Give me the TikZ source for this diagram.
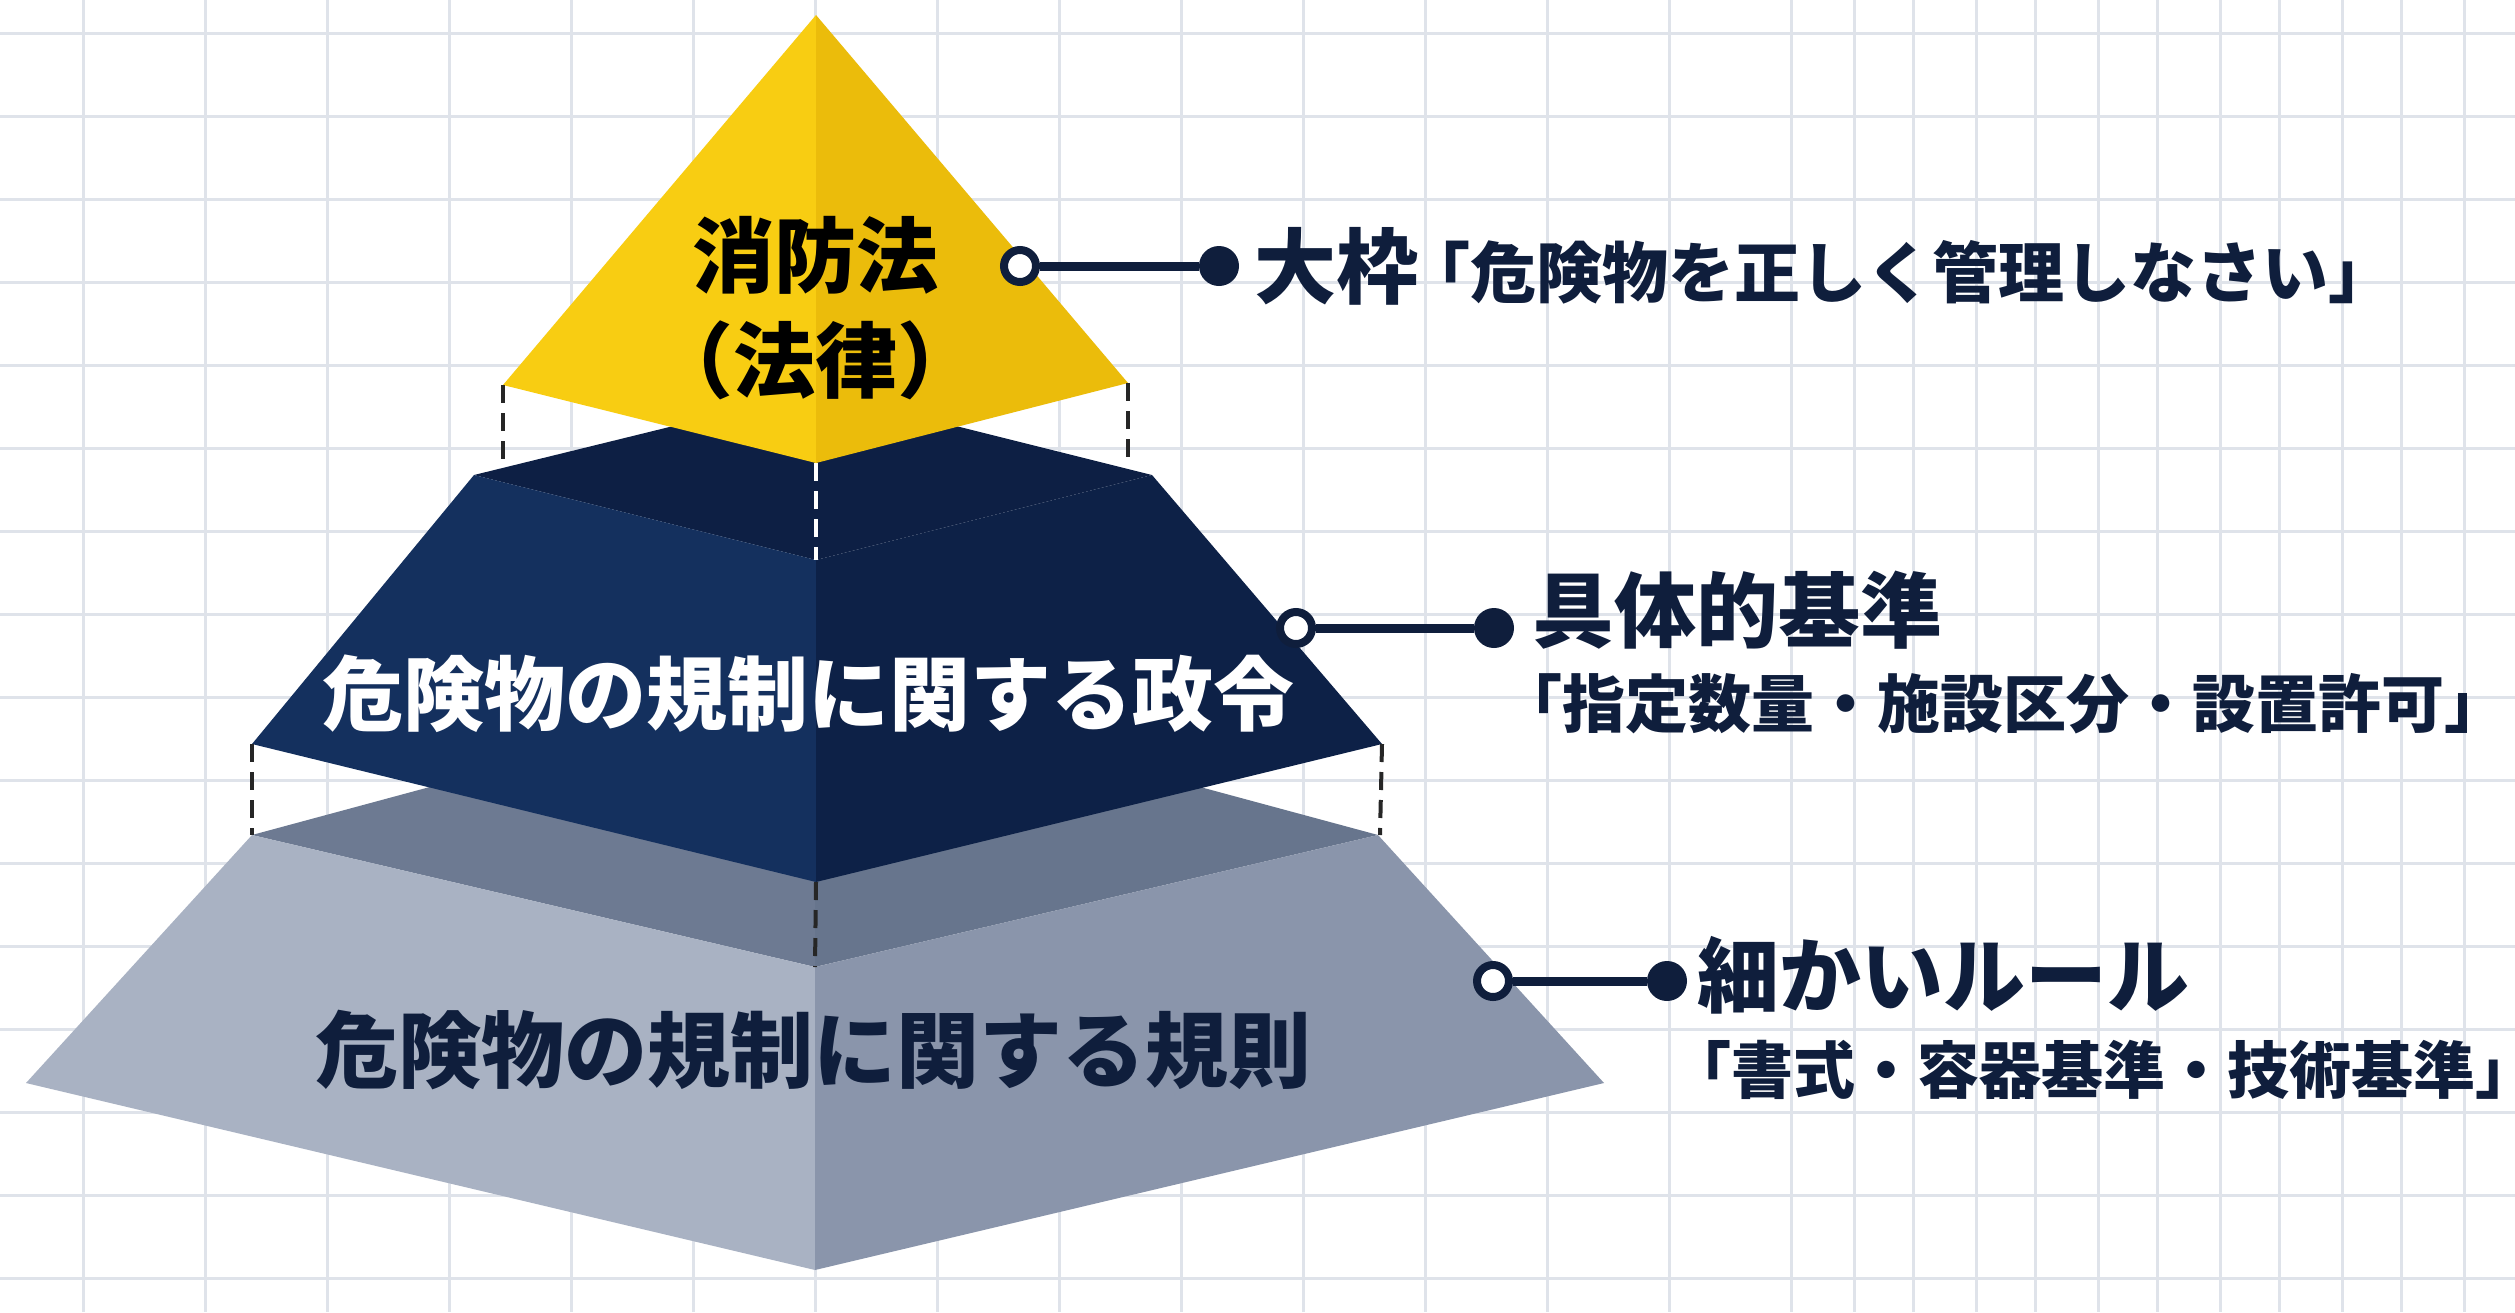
\documentclass[tikz,border=0pt]{standalone}
\usepackage{fontspec}
\setmainfont{Noto Sans CJK JP}
\definecolor{ylL}{HTML}{F8CD12}
\definecolor{ylR}{HTML}{EBBC0B}
\definecolor{nvT}{HTML}{0D1F44}
\definecolor{nvL}{HTML}{14305E}
\definecolor{nvR}{HTML}{0D2147}
\definecolor{gyT}{HTML}{6D7A92}
\definecolor{gyTR}{HTML}{67758D}
\definecolor{gyL}{HTML}{A9B2C3}
\definecolor{gyR}{HTML}{8A95AB}
\definecolor{ink}{HTML}{0F1E3C}
\definecolor{gridc}{HTML}{DFE3EA}
\begin{document}
\begin{tikzpicture}[x=1pt,y=-1pt,
  gridline/.style={draw=gridc,line width=3pt},
  opendot/.style={circle,draw=ink,fill=white,line width=8pt,minimum size=32pt,inner sep=0pt},
  fulldot/.style={circle,fill=ink,minimum size=40pt,inner sep=0pt},
  conn/.style={draw=ink,line width=9pt},
  guide/.style={draw=black!85,line width=4pt,dash pattern=on 18pt off 10pt},
  guidew/.style={draw=white,line width=4pt,dash pattern=on 18pt off 10pt},
  bigtxt/.style={font=\fontsize{82}{92}\selectfont\bfseries,text=ink,inner sep=0pt},
  smalltxt/.style={font=\fontsize{63}{72}\selectfont\bfseries,text=ink,inner sep=0pt},
  layertxt/.style={font=\fontsize{83}{94}\selectfont\bfseries,inner sep=0pt}]
\useasboundingbox (0,0) rectangle (2515,1312);
\fill[white] (0,0) rectangle (2515,1312);
% grid
\foreach \k in {0,...,15} \draw[gridline] (0,33+83*\k) -- (2515,33+83*\k);
\foreach \k in {0,...,19} \draw[gridline] (83+122*\k,0) -- (83+122*\k,1312);
\foreach \k in {0,...,5} \draw[gridline] (1854+122*\k,0) -- (1854+122*\k,1312);
% coordinates
\coordinate (gTL) at (252,835);
\coordinate (gTB) at (815,683);
\coordinate (gTR) at (1378,835);
\coordinate (gTF) at (815,967);
\coordinate (gBL) at (26,1083);
\coordinate (gBR) at (1604,1083);
\coordinate (gBF) at (815,1270);
\coordinate (nTL) at (474,475);
\coordinate (nTB) at (816,391);
\coordinate (nTR) at (1152,475);
\coordinate (nTF) at (816,560);
\coordinate (nBL) at (252,744);
\coordinate (nBR) at (1382,744);
\coordinate (nBF) at (816,882);
\coordinate (yA) at (816,15);
\coordinate (yL) at (503,385);
\coordinate (yR) at (1128,383);
\coordinate (yB) at (816,463);
% gray layer
\fill[gyT] (gTL) -- (gTB) -- (gTF) -- cycle;
\fill[gyTR] (gTB) -- (gTR) -- (gTF) -- cycle;
\fill[gyL] (gTL) -- (gTF) -- (gBF) -- (gBL) -- cycle;
\fill[gyR] (gTF) -- (gTR) -- (gBR) -- (gBF) -- cycle;
% navy layer
\fill[nvT] (nTL) -- (nTB) -- (nTR) -- (nTF) -- cycle;
\fill[nvL] (nTL) -- (nTF) -- (nBF) -- (nBL) -- cycle;
\fill[nvR] (nTF) -- (nTR) -- (nBR) -- (nBF) -- cycle;
% yellow layer
\fill[ylL] (yA) -- (yL) -- (yB) -- cycle;
\fill[ylR] (yA) -- (yB) -- (yR) -- cycle;
% guides
\draw[guide] (yL) -- (503,467);
\draw[guide] (yR) -- (1128,467);
\draw[guidew] (yB) -- (nTF);
\draw[guide] (nBL) -- (gTL);
\draw[guide] (nBR) -- (1380,835);
\draw[guide] (nBF) -- (gTF);
% layer texts
\node[layertxt,text=black,font=\fontsize{82}{92}\selectfont\bfseries] (t1a) at (815,255) {消防法};
\node[layertxt,text=black,font=\fontsize{82}{92}\selectfont\bfseries] (t1b) at (815,360) {（法律）};
\node[layertxt,text=white,font=\fontsize{81}{92}\selectfont\bfseries] (t2) at (808,694) {危険物の規制に関する政令};
\node[layertxt,text=ink] (t3) at (813,1050) {危険物の規制に関する規則};
% connectors
\node[opendot] (c1) at (1020,266) {};
\node[fulldot] (d1) at (1219,266) {};
\draw[conn] (c1) -- (d1);
\node[opendot] (c2) at (1296,628) {};
\node[fulldot] (d2) at (1494,628) {};
\draw[conn] (c2) -- (d2);
\node[opendot] (c3) at (1493,981) {};
\node[fulldot] (d3) at (1667,981) {};
\draw[conn] (c3) -- (d3);
% labels
\node[bigtxt,anchor=west] (l1) at (1254,266) {大枠\hspace{-14pt}{\fontsize{66}{74}\selectfont 「危険物を正しく管理しなさい」}};
\node[bigtxt,anchor=west] (l2a) at (1532,610) {具体的基準};
\node[smalltxt,anchor=west] (l2b) at (1499,704) {「指定数量・施設区分・設置許可」\hspace{-0.5em}};
\node[bigtxt,anchor=west] (l3a) at (1697,975) {細かいルール};
\node[smalltxt,anchor=west,font=\fontsize{62}{72}\selectfont\bfseries] (l3b) at (1669,1070) {「書式・容器基準・技術基準」\hspace{-0.55em}};
\end{tikzpicture}
\end{document}
